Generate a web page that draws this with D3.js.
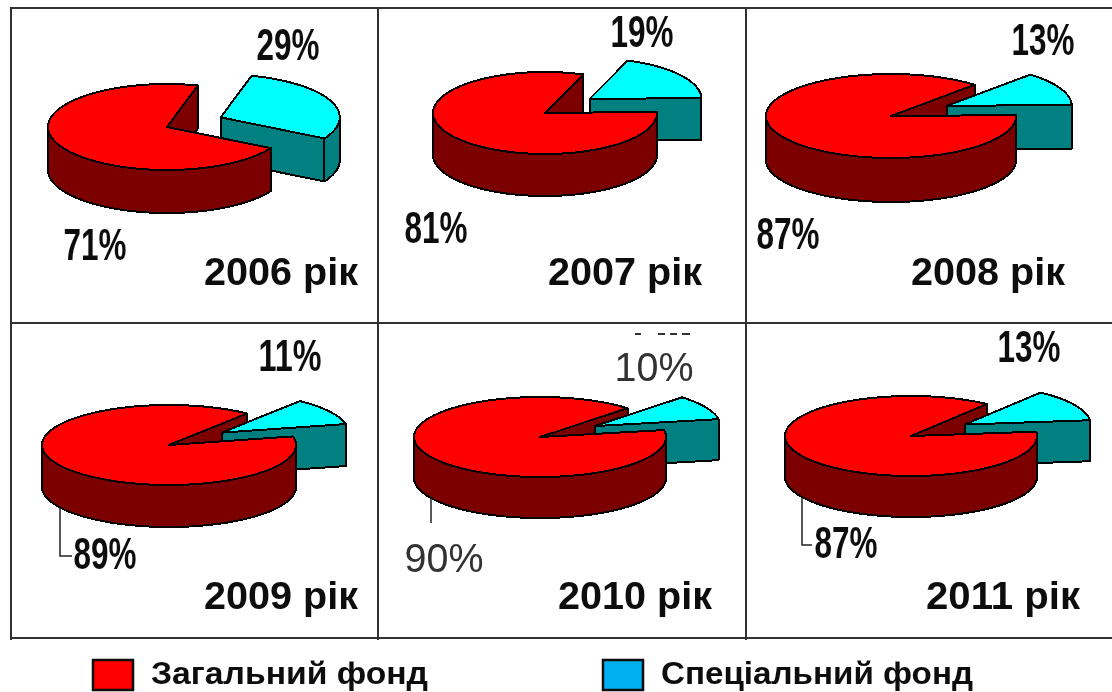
<!DOCTYPE html>
<html lang="uk">

<head>
    <meta charset="UTF-8">
    <title>Фонди</title>
    <script src="https://d3js.org/d3.v7.min.js"></script>
    <style>
        html, body { margin: 0; padding: 0; background: #fff; overflow: hidden; }
        text { font-family: "Liberation Sans", Arial, sans-serif; }
    </style>
</head>

<body>

    <svg class="svgs" height="692" width="1112"></svg>

    <script>
        // data
        const years = ['2006 рік', '2007 рік', '2008 рік', '2009 рік', '2010 рік', '2011 рік']
        const generalFund = [71, 81, 87, 89, 90, 87]
        const specialFund = [29, 19, 13, 11, 10, 13]
        const legendNames = ['Загальний фонд', 'Спеціальний фонд']

        // layout of each panel
        const pieX = [167, 545, 891, 169, 540, 911]
        const pieY = [127, 113, 116, 445, 437, 436]
        const pieRx = [119, 112, 125, 127, 126, 126]
        const pieRy = [43, 41, 42, 40, 40, 40]
        const pieDepth = [43, 42, 44, 42, 41, 41]
        const rotation = [15, 20, 42, 38, 44, 37]
        const specialLabelX = [288, 642, 1043, 290, 654, 1029]
        const specialLabelY = [60, 47, 55, 371, 381, 362]
        const generalLabelX = [95, 436, 788, 105, 444, 846]
        const generalLabelY = [260, 243, 249, 569, 572, 558]
        const yearX = [358, 702, 1065, 358, 712, 1080]
        const yearY = [285, 285, 285, 609, 609, 609]
        const leaders = [null, null, null, [[60, 508], [60, 556], [72, 556]], [[431, 498], [431, 523]], [[802, 498], [802, 545], [812, 545]]]
        const explodeX = 0.49
        const explodeY = 0.58

        const svg = d3.select('.svgs')
        const defs = svg.append('defs')
        defs.append('filter').attr('id', 'soft')
            .append('feGaussianBlur').attr('stdDeviation', 0.55)
        const root = svg.append('g').attr('filter', 'url(#soft)')

        svg.insert('rect', 'g').attr('width', 1112).attr('height', 692).attr('fill', '#fff')

        // grid
        const gridX = [11, 378, 746]
        const gridY = [8, 323, 638]
        root.selectAll('.hline').data(gridY).enter().append('line')
            .attr('x1', 10).attr('x2', 1112).attr('y1', d => d).attr('y2', d => d)
            .attr('stroke', '#333').attr('stroke-width', 2)
        root.selectAll('.vline').data(gridX).enter().append('line')
            .attr('y1', 8).attr('y2', 640).attr('x1', d => d).attr('x2', d => d)
            .attr('stroke', '#333').attr('stroke-width', 2)

        const pie = d3.pie().sort(null).value(d => d)
        const rad = Math.PI / 180

        const drawPie = function (i) {
            const rx = pieRx[i], ry = pieRy[i], depth = pieDepth[i]
            const start = rotation[i] * rad
            const arcs = pie.startAngle(start).endAngle(start + 2 * Math.PI)([specialFund[i], generalFund[i]])
            const g = root.append('g').attr('shape-rendering', 'crispEdges')
                .attr('stroke', '#000').attr('stroke-width', 2).attr('stroke-linejoin', 'round')
            const line = d3.line()

            const slice = function (a, pulled) {
                const mid = (a.startAngle + a.endAngle) / 2
                const ax = pieX[i] + (pulled ? explodeX * rx * Math.sin(mid) : 0)
                const ay = pieY[i] - (pulled ? explodeY * ry * Math.cos(mid) : 0)
                const rim = t => [ax + rx * Math.sin(t), ay - ry * Math.cos(t)]
                const down = p => [p[0], p[1] + depth]
                const sample = (t0, t1) => d3.range(t0, t1, rad).concat([t1]).map(rim)
                return {
                    cut: t => line([[ax, ay], rim(t), down(rim(t)), [ax, ay + depth]]) + 'Z',
                    wall: () => {
                        // front half only
                        const w0 = Math.max(a.startAngle, 90 * rad)
                        const w1 = Math.min(a.endAngle, 270 * rad)
                        if (w1 <= w0) return null
                        const top = sample(w0, w1)
                        return line(top.concat(top.map(down).reverse())) + 'Z'
                    },
                    top: () => line([[ax, ay]].concat(sample(a.startAngle, a.endAngle))) + 'Z'
                }
            }

            const special = slice(arcs[0], true)
            const general = slice(arcs[1], false)

            // the visible cut of the red slice goes behind the pulled out slice
            g.append('path').attr('fill', '#7d0000').attr('d', general.cut(arcs[1].endAngle))

            g.append('path').attr('fill', '#008080').attr('d', special.cut(arcs[0].startAngle))
            g.append('path').attr('fill', '#008080').attr('d', special.cut(arcs[0].endAngle))
            if (special.wall()) g.append('path').attr('fill', '#008080').attr('d', special.wall())
            g.append('path').attr('fill', '#00ffff').attr('d', special.top())

            if (general.wall()) g.append('path').attr('fill', '#7d0000').attr('d', general.wall())
            g.append('path').attr('fill', '#ff0000').attr('d', general.top())
        }
        d3.range(years.length).forEach(drawPie)

        // leader lines
        root.selectAll('.leader').data(leaders.filter(d => d)).enter().append('path')
            .attr('d', d => d3.line()(d)).attr('fill', 'none')
            .attr('stroke', '#222').attr('stroke-width', 1.5)

        // labels, panel 2010 uses the thin grey type
        const pctLabel = function (value, x, y, i) {
            const thin = i == 4
            root.append('text').text(value + '%')
                .attr('x', x).attr('y', y).attr('text-anchor', 'middle')
                .attr('font-size', thin ? 40 : 44)
                .attr('font-weight', thin ? 'normal' : 'bold')
                .attr('fill', thin ? '#333' : '#111')
                .attr('textLength', thin ? 79 : 63)
                .attr('lengthAdjust', 'spacingAndGlyphs')
        }
        years.forEach((year, i) => {
            pctLabel(specialFund[i], specialLabelX[i], specialLabelY[i], i)
            pctLabel(generalFund[i], generalLabelX[i], generalLabelY[i], i)
            root.append('text').text(year)
                .attr('x', yearX[i] - 154).attr('y', yearY[i])
                .attr('font-size', 39).attr('font-weight', 'bold').attr('fill', '#111')
                .attr('textLength', 154).attr('lengthAdjust', 'spacingAndGlyphs')
        })

        // what is left of a cut off label above 10%
        root.append('line').attr('x1', 635).attr('x2', 690).attr('y1', 334).attr('y2', 334)
            .attr('stroke', '#333').attr('stroke-width', 2).attr('stroke-dasharray', '6 17 7 5 7 5 8 99')

        // legend
        const legendX = [93, 603]
        const legendFill = ['#ff0000', '#00b0f0']
        const legendTextX = [151, 661]
        const legendTextW = [277, 312]
        legendNames.forEach((name, i) => {
            root.append('rect').attr('x', legendX[i]).attr('y', 660)
                .attr('width', 40).attr('height', 30).attr('fill', legendFill[i])
                .attr('stroke', '#111').attr('stroke-width', 2.5)
            root.append('text').text(name)
                .attr('x', legendTextX[i]).attr('y', 684)
                .attr('font-size', 31).attr('font-weight', 'bold').attr('fill', '#111')
                .attr('textLength', legendTextW[i])
                .attr('lengthAdjust', 'spacingAndGlyphs')
        })
    </script>
</body>

</html>
